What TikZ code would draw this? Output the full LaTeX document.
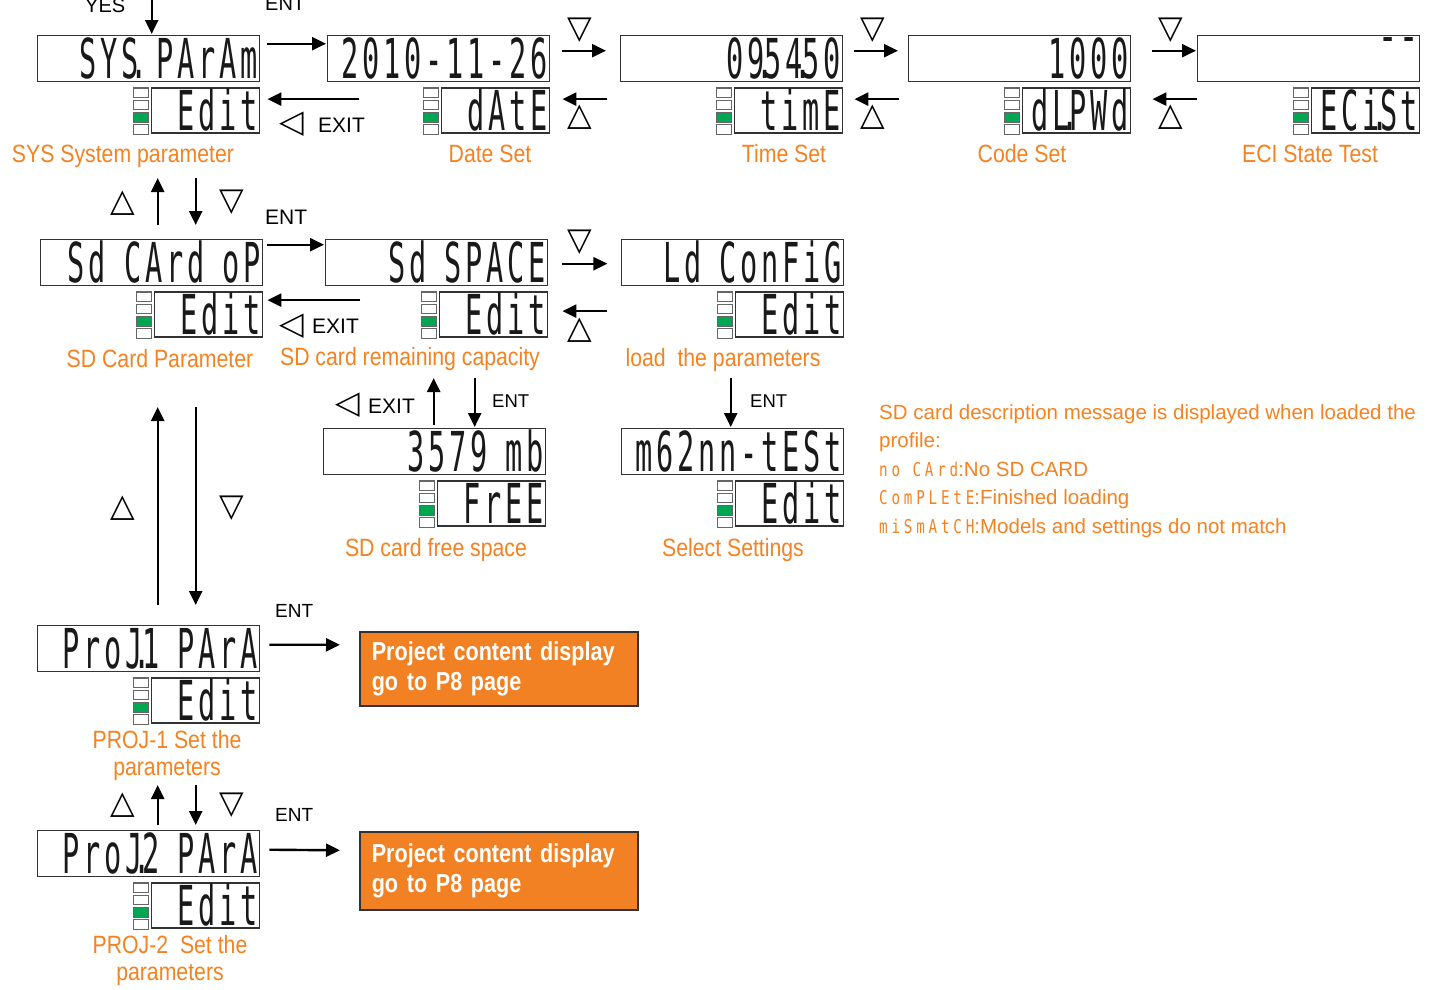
\documentclass[tikz,border=0pt]{standalone}
\usepackage{fontspec}
\setmainfont{Liberation Sans}
\newfontfamily\lblfont[FakeStretch=0.85]{Liberation Sans}
\newfontfamily\boxfont[FakeStretch=0.83]{Liberation Sans}
\newfontfamily\segfont[FakeStretch=0.52,LetterSpace=6.9]{DejaVu Sans Mono}
\newfontfamily\segsmall[FakeStretch=0.75,LetterSpace=20]{DejaVu Sans Mono}
\newfontfamily\symfont{DejaVu Sans}
\usetikzlibrary{arrows.meta}
\definecolor{lbl}{RGB}{245,130,32}
\definecolor{boxorange}{RGB}{242,129,36}
\definecolor{ledgreen}{RGB}{0,166,81}
\definecolor{framec}{RGB}{51,51,51}
\definecolor{segc}{RGB}{25,25,25}
\newcommand{\sdot}{\makebox[0pt]{.}}
\tikzset{
  mainbox/.style={draw=framec, line width=1.4pt, anchor=north west, minimum height=46pt,
    text width=219pt, inner xsep=1.5pt, inner ysep=0pt, text height=43pt, text depth=3pt,
    align=right, text=segc, font=\segfont\fontsize{55}{55}\selectfont},
  subbox/.style={draw=framec, line width=1.4pt, minimum height=45pt,
    text width=105pt, inner xsep=1.5pt, inner ysep=0pt, text height=42pt, text depth=3pt,
    align=right, text=segc, font=\segfont\fontsize{55}{55}\selectfont},
  ledbox/.style={draw=gray!80!black, line width=1.1pt, fill=white, minimum width=15pt,
    minimum height=9.6pt, inner sep=0pt},
  arr/.style={line width=2.4pt, -{Triangle[length=14pt,width=13pt]}},
  lbl/.style={text=lbl, font=\lblfont\fontsize{25}{30}\selectfont, anchor=base, inner sep=0pt,
    text height=19pt, text depth=5pt},
  keytxt/.style={font=\fontsize{21}{25}\selectfont, anchor=base west, inner sep=0pt},
  tri/.style={font=\symfont\fontsize{32}{32}\selectfont, inner sep=0pt},
  desc/.style={text=lbl, font=\fontsize{20.5}{25}\selectfont, anchor=base west, inner sep=0pt},
  projbox/.style={draw=black!80, line width=1.6pt, fill=boxorange, anchor=north west,
    minimum width=278pt, text width=254pt, inner xsep=12pt, align=left, text=white,
    font=\boxfont\bfseries\fontsize{26}{30}\selectfont}
}
\newcommand{\segunit}[5]{%
  \node[mainbox] (#1) at (#2,#3) {#4};
  \node[subbox, anchor=north east] (#1s) at ([yshift=-5pt]#1.south east) {#5};
  \node[ledbox, anchor=north east] (#1l1) at ([xshift=-2pt]#1s.north west) {};
  \node[ledbox, anchor=north] (#1l2) at ([yshift=-1.6pt]#1l1.south) {};
  \node[ledbox, fill=ledgreen, anchor=north] (#1l3) at ([yshift=-1.6pt]#1l2.south) {};
  \node[ledbox, anchor=north] (#1l4) at ([yshift=-1.6pt]#1l3.south) {};
}
\begin{document}
\begin{tikzpicture}[x=1pt,y=-1pt]
\fill[white] (0,0) rectangle (1455,989);
\useasboundingbox (0,0) rectangle (1455,989);

% displays
\segunit{m1}{37}{35}{SYS\sdot\ PArAm}{Edit}
\segunit{m2}{327}{35}{2010-11-26}{dAtE}
\segunit{m3}{620}{35}{09\sdot 54\sdot 50}{timE}
\segunit{m4}{908}{35}{1000}{dL\sdot PWd}
\segunit{m5}{1197}{35}{¯¯}{ECi\sdot St}
\segunit{m6}{40}{239}{Sd CArd oP}{Edit}
\segunit{m7}{325}{239}{Sd SPACE}{Edit}
\segunit{m8}{621}{239}{Ld ConFiG}{Edit}
\segunit{m9}{323}{428}{3579 mb}{FrEE}
\segunit{m10}{621}{428}{m62nn-tESt}{Edit}
\segunit{m11}{37}{625}{ProJ\sdot 1 PArA}{Edit}
\segunit{m12}{37}{830}{ProJ\sdot 2 PArA}{Edit}

% project boxes
\node[projbox, minimum height=74pt] (pb1) at (359,631) {Project content display\\go to P8 page};
\node[projbox, minimum height=78pt] (pb2) at (359,831) {Project content display\\go to P8 page};

% labels
\node[lbl] (l1) at (123,162) {SYS System parameter};
\node[lbl] (l2) at (490,162) {Date Set};
\node[lbl] (l3) at (784,162) {Time Set};
\node[lbl] (l4) at (1022,162) {Code Set};
\node[lbl] (l5) at (1310,162) {ECI State Test};
\node[lbl] (l6) at (160,367) {SD Card Parameter};
\node[lbl] (l7) at (410,365) {SD card remaining capacity};
\node[lbl] (l8) at (723,366) {load\ \ the parameters};
\node[lbl] (l9) at (436,556) {SD card free space};
\node[lbl] (l10) at (733,556) {Select Settings};
\node[lbl] (l11) at (167,748) {PROJ-1 Set the};
\node[lbl] (l12) at (167,775) {parameters};
\node[lbl] (l13) at (170,953) {PROJ-2\ \ Set the};
\node[lbl] (l14) at (170,980) {parameters};

% key texts
\node[keytxt, font=\fontsize{20}{24}\selectfont] (kyes) at (85,12) {YES};
\node[keytxt, font=\fontsize{20}{24}\selectfont] (kent0) at (265,10) {ENT};
\node[keytxt] (kex1) at (318,132) {EXIT};
\node[keytxt] (kent1) at (265,224) {ENT};
\node[keytxt] (kex2) at (312,333) {EXIT};
\node[keytxt] (kex3) at (368,413) {EXIT};
\node[keytxt, font=\fontsize{18.5}{22}\selectfont] (kent2) at (492,407) {ENT};
\node[keytxt, font=\fontsize{18.5}{22}\selectfont] (kent3) at (750,407) {ENT};
\node[keytxt, font=\fontsize{19}{22}\selectfont] (kent4) at (275,617) {ENT};
\node[keytxt, font=\fontsize{19}{22}\selectfont] (kent5) at (275,821) {ENT};

% triangles
\node[tri] (tx1) at (292,124) {◁};
\node[tri] (tx2) at (292,326) {◁};
\node[tri] (tx3) at (348,405) {◁};
\node[tri] (td1) at (580,30) {▽};
\node[tri] (tu1) at (580,117) {△};
\node[tri] (td2) at (873,30) {▽};
\node[tri] (tu2) at (873,117) {△};
\node[tri] (td3) at (1171,30) {▽};
\node[tri] (tu3) at (1171,117) {△};
\node[tri] (td4) at (580,242) {▽};
\node[tri] (tu4) at (580,330) {△};
\node[tri] (tu5) at (123,203) {△};
\node[tri] (td5) at (232,202) {▽};
\node[tri] (tu6) at (123,508) {△};
\node[tri] (td6) at (232,508) {▽};
\node[tri] (tu7) at (123,805) {△};
\node[tri] (td7) at (232,805) {▽};

% description
\node[desc] (ds1) at (879,419) {SD card description message is displayed when loaded the};
\node[desc] (ds2) at (879,447) {profile:};
\node[desc] (ds3) at (879,476) {{\segsmall\fontsize{19}{24}\selectfont no CArd}:No SD CARD};
\node[desc] (ds4) at (879,504) {{\segsmall\fontsize{19}{24}\selectfont ComPLEtE}:Finished loading};
\node[desc] (ds5) at (879,533) {{\segsmall\fontsize{19}{24}\selectfont miSmAtCH}:Models and settings do not match};

% arrows row 1
\draw[arr] ([xshift=3pt,yshift=37pt]m1.north) -- ([xshift=3pt,yshift=1pt]m1.north);
\draw[arr] ([xshift=7pt,yshift=15pt]m1.east) -- ([xshift=-1pt,yshift=15pt]m2.west);
\draw[arr] ([xshift=99pt,yshift=11.5pt]m1s.east) -- ([xshift=7pt,yshift=11.5pt]m1s.east);
\draw[arr] ([xshift=12pt,yshift=8pt]m2.east) -- ([xshift=-14pt,yshift=8pt]m3.west);
\draw[arr] ([xshift=57pt,yshift=11.5pt]m2s.east) -- ([xshift=12pt,yshift=11.5pt]m2s.east);
\draw[arr] ([xshift=11pt,yshift=8pt]m3.east) -- ([xshift=-10pt,yshift=8pt]m4.west);
\draw[arr] ([xshift=56pt,yshift=11.5pt]m3s.east) -- ([xshift=11pt,yshift=11.5pt]m3s.east);
\draw[arr] ([xshift=21pt,yshift=8pt]m4.east) -- ([xshift=-1pt,yshift=8pt]m5.west);
\draw[arr] ([xshift=66pt,yshift=11.5pt]m4s.east) -- ([xshift=21pt,yshift=11.5pt]m4s.east);
% row 1 - row 2
\draw[arr] ([xshift=6pt,yshift=14pt]m6.north) -- ([xshift=6pt,yshift=61pt]m6.north);
\draw[arr] ([xshift=44pt,yshift=61pt]m6.north) -- ([xshift=44pt,yshift=14pt]m6.north);
% row 2
\draw[arr] ([xshift=4pt,yshift=18pt]m6.east) -- ([xshift=-1pt,yshift=18pt]m7.west);
\draw[arr] ([xshift=97pt,yshift=14.5pt]m6s.east) -- ([xshift=4pt,yshift=14.5pt]m6s.east);
\draw[arr] ([xshift=14pt,yshift=-1pt]m7.east) -- ([xshift=59pt,yshift=-1pt]m7.east);
\draw[arr] ([xshift=59pt,yshift=3.5pt]m7s.east) -- ([xshift=14pt,yshift=3.5pt]m7s.east);
% row 2 - row 3
\draw[arr] ([xshift=-1pt,yshift=3pt]m9.north) -- ([xshift=-1pt,yshift=50pt]m9.north);
\draw[arr] ([xshift=40pt,yshift=50pt]m9.north) -- ([xshift=40pt,yshift=1pt]m9.north);
\draw[arr] ([xshift=-2pt,yshift=50pt]m10.north) -- ([xshift=-2pt,yshift=1pt]m10.north);
% left column
\draw[arr] ([xshift=9pt,yshift=20pt]m11.north) -- ([xshift=9pt,yshift=218pt]m11.north);
\draw[arr] ([xshift=47pt,yshift=218pt]m11.north) -- ([xshift=47pt,yshift=20pt]m11.north);
\draw[arr] ([xshift=9pt,yshift=4pt]m11.east) -- ([xshift=-19pt,yshift=24pt]pb1.west);
\draw[arr] ([xshift=9pt,yshift=5pt]m12.north) -- ([xshift=9pt,yshift=45pt]m12.north);
\draw[arr] ([xshift=47pt,yshift=45pt]m12.north) -- ([xshift=47pt,yshift=5pt]m12.north);
\draw[arr] ([xshift=9pt,yshift=4pt]m12.east) -- ([xshift=-19pt,yshift=20.5pt]pb2.west);
\end{tikzpicture}
\end{document}
